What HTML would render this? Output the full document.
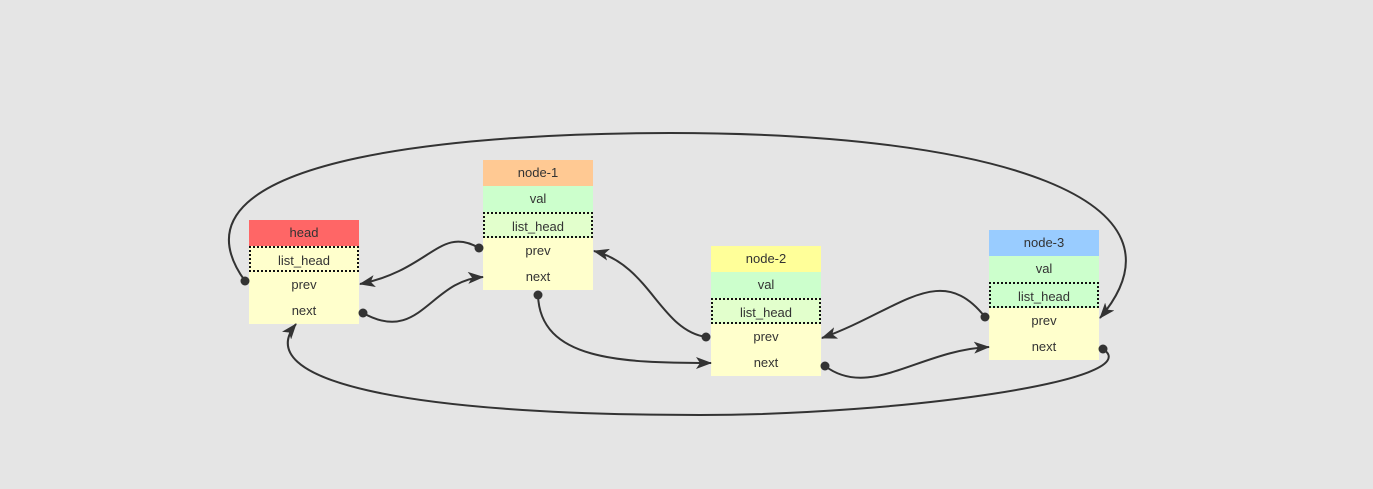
<!DOCTYPE html>
<html><head><style>
body{margin:0;background:#e5e5e5;width:1373px;height:489px;overflow:hidden;position:relative;font-family:"Liberation Sans","DejaVu Sans",sans-serif}
.n{position:absolute;width:110px}
.n div{height:26px;line-height:26px;text-align:center;font-size:13px;color:#333;box-sizing:border-box}
.y{background:#ffffcc}.g{background:#ccffcc}.lg{background:#e2ffcc}
.d{border:2px dotted #111}
svg{position:absolute;left:0;top:0}
</style></head><body>
<div class="n" style="left:249px;top:220px">
<div style="background:#ff6666">head</div><div class="y d">list_head</div><div class="y">prev</div><div class="y">next</div></div>
<div class="n" style="left:483px;top:160px">
<div style="background:#ffc993">node-1</div><div class="g">val</div><div class="lg d">list_head</div><div class="y">prev</div><div class="y">next</div></div>
<div class="n" style="left:711px;top:246px">
<div style="background:#ffff99">node-2</div><div class="g">val</div><div class="lg d">list_head</div><div class="y">prev</div><div class="y">next</div></div>
<div class="n" style="left:989px;top:230px">
<div style="background:#99ccff">node-3</div><div class="g">val</div><div class="g d">list_head</div><div class="y">prev</div><div class="y">next</div></div>
<svg width="1373" height="489">
<defs><marker id="a" markerWidth="16" markerHeight="12" refX="15" refY="6" orient="auto" markerUnits="userSpaceOnUse"><path d="M0,0 L16,6 L0,12 L4,6z" fill="#333"/></marker></defs>
<g fill="none" stroke="#333" stroke-width="2" marker-end="url(#a)">
<path d="M245 281 C150 150 500 133 670 133 C1000 133 1200 200 1100 318"/>
<path d="M479 248 C440 225 430 270 360 284"/>
<path d="M363 313 C420 345 430 280 483 277"/>
<path d="M538 295 C540 360 620 363 711 363"/>
<path d="M706 337 C660 330 650 265 594 251"/>
<path d="M985 317 C940 260 900 310 822 338"/>
<path d="M825 366 C870 400 920 350 989 347"/>
<path d="M1103 349 C1150 380 900 415 700 415 C400 415 250 380 296 324"/>
</g>
<g fill="#333">
<circle cx="245" cy="281" r="4.5"/><circle cx="479" cy="248" r="4.5"/><circle cx="363" cy="313" r="4.5"/><circle cx="538" cy="295" r="4.5"/><circle cx="706" cy="337" r="4.5"/><circle cx="985" cy="317" r="4.5"/><circle cx="825" cy="366" r="4.5"/><circle cx="1103" cy="349" r="4.5"/>
</g>
</svg>
</body></html>
